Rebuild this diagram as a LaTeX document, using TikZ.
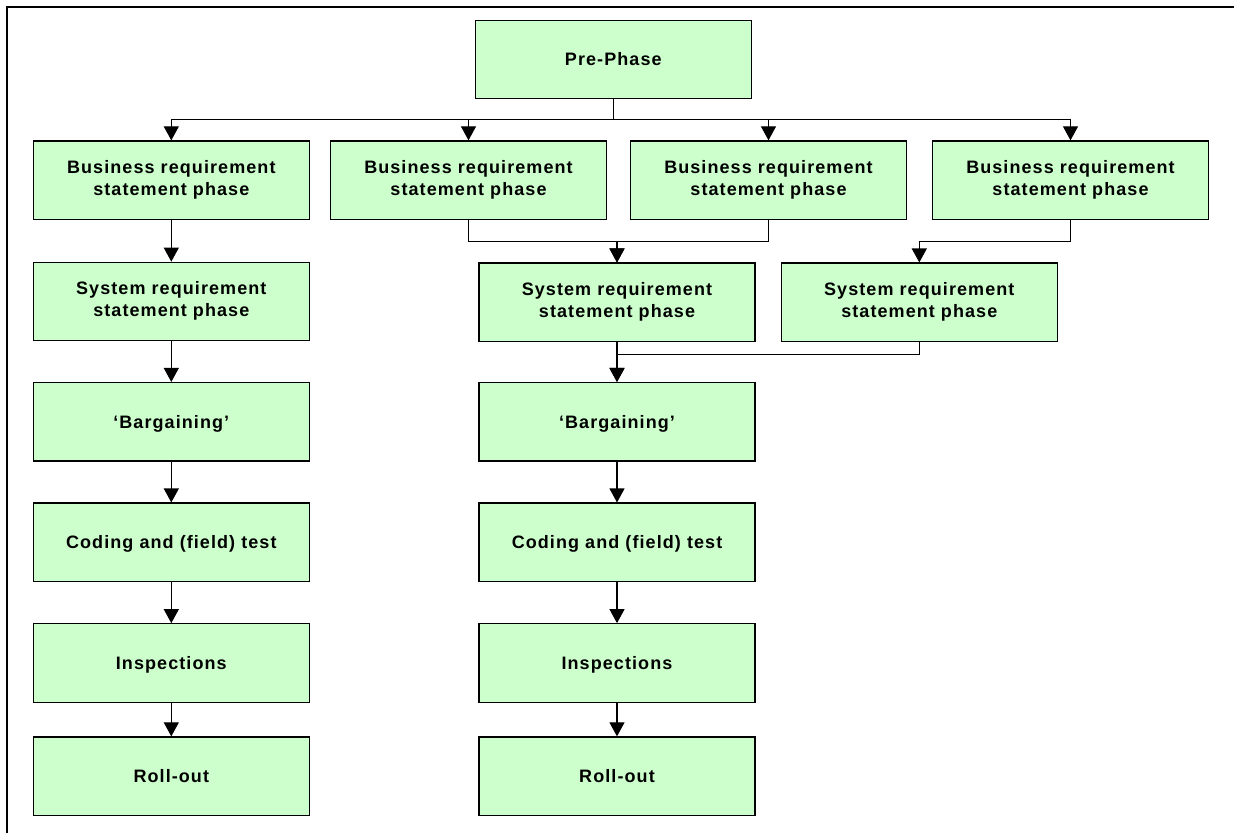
\documentclass[tikz,border=0pt]{standalone}
\usepackage{fontspec}
\usetikzlibrary{arrows.meta}
\newfontfamily\phasefont[LetterSpace=6]{Liberation Sans}
\definecolor{phasegreen}{HTML}{CCFFCC}
\newcommand{\phasestrut}{\rule[-0.242em]{0pt}{1.2em}}
\tikzstyle{phase} = [rectangle, draw=black, line width=1.2pt, fill=phasegreen, minimum width=276pt, minimum height=78.5pt, inner sep=0pt, align=center, font=\phasefont\bfseries\fontsize{18}{22}\selectfont, execute at begin node=\phasestrut, execute at end node=\phasestrut]
\tikzstyle{link} = [line width=1.1pt, -{Triangle[length=14pt, width=15pt]}]
\newcommand{\brs}{Business requirement\\statement phase}
\newcommand{\srs}{System requirement\\statement phase}

\begin{document}
\begin{tikzpicture}[x=1pt, y=-1pt]%
				\useasboundingbox (0,0) rectangle (1234,833);%
				\draw[line width=2.2pt] (7.3,833) -- (7.3,7.3) -- (1234,7.3);%
				\node[phase] (pre) at (613.3,59.5) {Pre-Phase};%
				\node[phase] (brsa) at (171.3,180.2) {\brs};%
				\node[phase] (brsb) at (468.5,180.2) {\brs};%
				\node[phase] (brsc) at (768.5,180.2) {\brs};%
				\node[phase] (brsd) at (1070.5,180.2) {\brs};%
				\node[phase] (srsa) at (171.3,301.5) {\srs};%
				\node[phase] (srsb) at (617,302.3) {\srs};%
				\node[phase] (srsc) at (919.3,302.3) {\srs};%
				\node[phase] (barga) at (171.3,421.8) {‘Bargaining’};%
				\node[phase] (bargb) at (617,421.8) {‘Bargaining’};%
				\node[phase] (codea) at (171.3,542.3) {Coding and (field) test};%
				\node[phase] (codeb) at (617,542.3) {Coding and (field) test};%
				\node[phase] (inspa) at (171.3,663) {Inspections};%
				\node[phase] (inspb) at (617,663) {Inspections};%
				\node[phase] (rolla) at (171.3,776.2) {Roll-out};%
				\node[phase] (rollb) at (617,776.2) {Roll-out};%
				\foreach \b in {brsa,brsb,brsc,brsd}%
					\draw[link] (pre.south) -- ++(0,20) -| (\b.north);%
				\draw[link] (brsb.south) -- ++(0,21.5) -| (srsb.north);%
				\draw[link] (brsc.south) -- ++(0,21.5) -| (srsb.north);%
				\draw[link] (brsd.south) -- ++(0,21.5) -| (srsc.north);%
				\draw[link] (srsb.south) -- (bargb.north);%
				\draw[link] (srsc.south) -- ++(0,12.6) -| (bargb.north);%
				\draw[link] (brsa) -- (srsa);%
				\draw[link] (srsa) -- (barga);%
				\draw[link] (barga) -- (codea);%
				\draw[link] (codea) -- (inspa);%
				\draw[link] (inspa) -- (rolla);%
				\draw[link] (bargb) -- (codeb);%
				\draw[link] (codeb) -- (inspb);%
				\draw[link] (inspb) -- (rollb);%
	\end{tikzpicture}
\end{document}
